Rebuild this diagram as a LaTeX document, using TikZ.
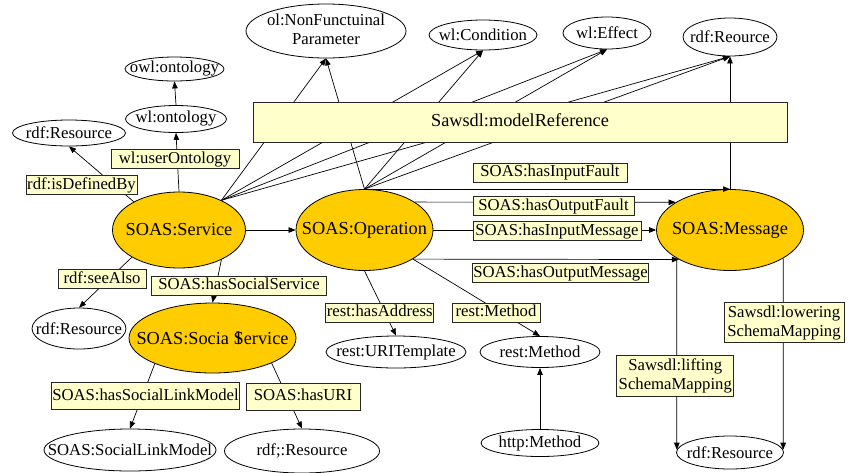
\documentclass[tikz,border=0pt]{standalone}
\usepackage{fontspec}
\setmainfont{Liberation Serif}
\usetikzlibrary{shapes.geometric, arrows.meta}
\definecolor{soasgold}{HTML}{FFCC00}
\definecolor{tagyellow}{HTML}{FFFFCC}
\tikzset{
  oval/.style={draw, ellipse, fill=white, inner sep=0pt, line width=0.8pt,
    execute at begin node={\hbox to 0pt\bgroup\hss},
    execute at end node={\hss\egroup}},
  soas/.style={oval, fill=soasgold, font=\fontsize{18.3}{21}\selectfont},
  tag/.style={draw=black!85, fill=tagyellow, line width=1pt, inner xsep=1pt,
    inner ysep=0pt, minimum height=19pt, text height=12pt, text depth=4pt},
  tagtwo/.style={draw=black!85, fill=tagyellow, line width=1pt, inner sep=1pt,
    align=center},
  link/.style={-{Triangle[length=7pt,width=5.5pt]}, line width=0.7pt}
}
\begin{document}
\begin{tikzpicture}[x=1pt, y=-1pt, font=\fontsize{16.7}{19}\selectfont]
    \useasboundingbox (0,0) rectangle (851,472);

    % classes
    \node[soas, minimum width=133, minimum height=76] (service) at (179,230) {SOAS:Service};
    \node[soas, minimum width=137, minimum height=81] (operation) at (364.5,230) {SOAS:Operation};
    \node[soas, minimum width=147, minimum height=81] (message) at (730,230) {SOAS:Message};
    \node[soas, minimum width=167, minimum height=70] (social) at (212.5,338) {SOAS:Socia \rlap{\hspace{2.5pt}l}Service};

    % ranges
    \node[oval, minimum width=99, minimum height=24] (owl) at (174.5,69) {owl:ontology};
    \node[oval, minimum width=101, minimum height=27] (wlont) at (176,119) {wl:ontology};
    \node[oval, minimum width=113, minimum height=26] (rdfdef) at (69,133) {rdf:Resource};
    \node[oval, minimum width=160, minimum height=54] (nfp) at (326,31)
        {\begin{tabular}{@{}c@{}}ol:NonFunctuinal\\Parameter\end{tabular}};
    \node[oval, minimum width=108, minimum height=30] (cond) at (483,35) {wl:Condition};
    \node[oval, minimum width=88, minimum height=32] (effect) at (607,33) {wl:Effect};
    \node[oval, minimum width=94, minimum height=38] (reource) at (730,37) {rdf:Reource};
    \node[oval, minimum width=94, minimum height=41] (rdfsee) at (79,328.5) {rdf:Resource};
    \node[oval, minimum width=140, minimum height=32] (uritpl) at (396,352) {rest:URITemplate};
    \node[oval, minimum width=120, minimum height=31] (restm) at (540,352) {rest:Method};
    \node[oval, minimum width=118, minimum height=27] (httpm) at (540,443) {http:Method};
    \node[oval, minimum width=172, minimum height=42] (linkmodel) at (130,450) {SOAS:SocialLinkModel};
    \node[oval, minimum width=155, minimum height=44] (rdfuri) at (302,451) {rdf;:Resource};
    \node[oval, minimum width=107, minimum height=33] (rdfmsg) at (730,452.5) {rdf:Resource};

    % model references
    \foreach \target in {nfp, cond, effect, reource} {
        \draw[link] (service.35) -- (\target.south);
        \draw[link] (operation.north) -- (\target.south);
    }
    \draw[link] (message.north) -- (reource.south);

    % properties
    \draw[link] (service) -- (operation);
    \draw[link] (service.north) -- (wlont.south);
    \draw[link] (wlont.north) -- (owl.south);
    \draw[link] (service.148) -- (rdfdef.south);
    \draw[link] (service.210) -- (rdfsee.north);
    \draw[link] (service.325) -- (social.north);
    \draw[link] (social.204) -- (linkmodel.north);
    \draw[link] (social.337) -- (rdfuri.north);
    \draw[link] (operation.south) -- (uritpl.north);
    \draw[link] (operation.329) -- (restm.north);
    \draw[link] (httpm.north) -- (restm.south);
    \draw[link] (operation.north) -- (message.north);
    \draw[link] (operation.29) -- (message.153);
    \draw[link] (operation.east) -- (message.west);
    \draw[link] (operation.329) -- (message.210);
    \draw[link] (message.208) -- (rdfmsg.177);
    \draw[link] (message.332) -- (rdfmsg.3);

    % property labels
    \node[tag, minimum width=534, minimum height=40, font=\fontsize{18.3}{21}\selectfont] (modelref) at (520,122) {Sawsdl:modelReference};
    \node[tag, minimum width=128] (userontology) at (175,159) {wl:userOntology};
    \node[tag, minimum width=111] (definedby) at (81.5,185) {rdf:isDefinedBy};
    \node[tag, minimum width=88] (seealso) at (102,279) {rdf:seeAlso};
    \node[tag, minimum width=175] (hassocial) at (239,285.5) {SOAS:hasSocialService};
    \node[tag, minimum width=187, minimum height=27] (haslink) at (145.5,396) {SOAS:hasSocialLinkModel};
    \node[tag, minimum width=114, minimum height=27] (hasuri) at (303,396.5) {SOAS:hasURI};
    \node[tag, minimum width=107] (hasaddress) at (379.7,312.5) {rest:hasAddress};
    \node[tag, minimum width=88] (hasmethod) at (496,312.5) {rest:Method};
    \node[tag, minimum width=154] (infault) at (550,172.7) {SOAS:hasInputFault};
    \node[tag, minimum width=161] (outfault) at (553.5,206) {SOAS:hasOutputFault};
    \node[tag, minimum width=168] (inmsg) at (557,231) {SOAS:hasInputMessage};
    \node[tag, minimum width=176] (outmsg) at (560.5,273) {SOAS:hasOutputMessage};
    \node[tagtwo, minimum width=120, minimum height=40] (lowering) at (784,322.7) {Sawsdl:lowering\\SchemaMapping};
    \node[tagtwo, minimum width=117, minimum height=41] (lifting) at (675.3,376) {Sawsdl:lifting\\SchemaMapping};
\end{tikzpicture}
\end{document}
